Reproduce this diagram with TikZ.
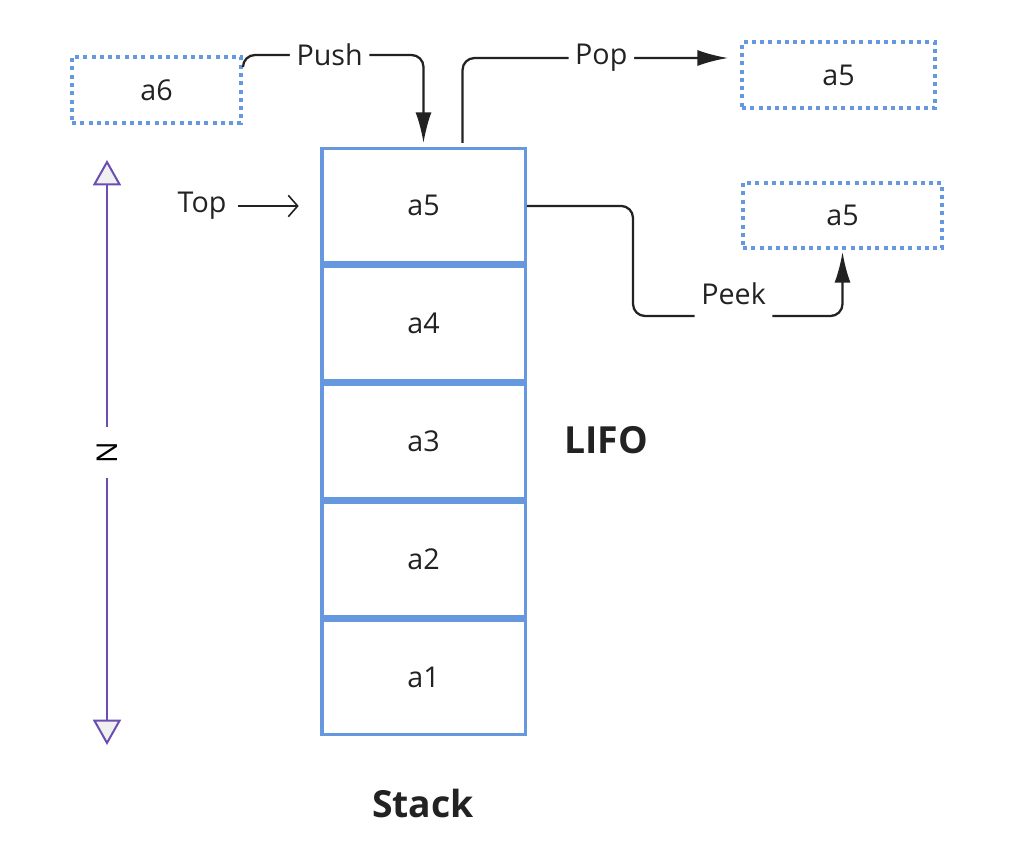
\documentclass[tikz,border=0pt]{standalone}
\usepackage{fontspec}
\setmainfont{Open Sans}
\usetikzlibrary{positioning,arrows.meta}
\definecolor{stackblue}{RGB}{102,152,224}
\definecolor{npurple}{RGB}{108,78,178}
\definecolor{inkgray}{RGB}{34,34,34}

\begin{document}
\begin{tikzpicture}
            [x=0.75pt, y=-0.75pt, font=\fontsize{21.5}{26}\selectfont, text=inkgray,
            cell/.style={draw=stackblue, line width=2.6pt, minimum width=152.6pt, minimum height=85.8pt, inner sep=0pt},
            dotbox/.style={draw=stackblue, line width=3pt, dash pattern=on 3pt off 3.2pt, inner sep=0pt},
            conn/.style={draw=inkgray, line width=1.7pt, rounded corners=9pt, -{Latex[length=23pt,width=12pt]}},
            lbl/.style={fill=white, inner xsep=5pt, inner ysep=2pt},
            bigtext/.style={font=\fontsize{28}{32}\selectfont\bfseries}]
            \useasboundingbox (0,0) rectangle (1012,856);
            % the stack itself
            \node [cell] (a5) at (423.5,205.9) {a5};
            \node [cell, below=0pt of a5] (a4) {a4};
            \node [cell, below=0pt of a4] (a3) {a3};
            \node [cell, below=0pt of a3] (a2) {a2};
            \node [cell, below=0pt of a2] (a1) {a1};
            \node [bigtext] (stacklbl) at (423,803) {Stack};
            \node [bigtext] (lifo) at (606,440) {LIFO};
            % outside elements
            \node [dotbox, minimum width=126.7pt, minimum height=49.5pt] (a6) at (156.5,90) {a6};
            \node [dotbox, minimum width=144.7pt, minimum height=49.5pt] (popped) at (838.5,75) {a5};
            \node [dotbox, minimum width=149.2pt, minimum height=48.7pt] (peeked) at (842.5,215.5) {a5};
            \node (top) at (202,206) {Top};
            % operations
            \draw [conn, shorten >=3pt] ([yshift=-9pt]a6.north east) |- node [lbl, pos=0.74] {Push} (a5.north |- 0,55) -- (a5.north);
            \draw [conn, shorten <=3pt, shorten >=9pt] ([xshift=29.25pt]a5.north) |- node [lbl, pos=0.75] {Pop} (popped.west |- 0,58);
            \coordinate (peekdrop) at (633,316);
            \draw [conn, shorten >=1.5pt] (a5.east) -| (peekdrop) -| node [lbl, pos=0.24, text height=16pt, text depth=34pt] {Peek} (peeked.south);
            \draw [draw=inkgray, line width=1.2pt, -{Straight Barb[length=7pt,width=16pt]}, shorten <=5pt, shorten >=16pt] (top.east) -- (top.east -| a5.west);
            % size of the stack
            \coordinate (ntop) at (107,160);
            \coordinate (nbot) at (107,745);
            \draw [draw=npurple, line width=1.5pt, {Triangle[length=19pt,width=21pt,fill=black!6]}-{Triangle[length=19pt,width=21pt,fill=black!6]}]
                (ntop) -- node [fill=white, rotate=90, inner xsep=11pt, inner ysep=2pt, text=black] {N} (nbot);
\end{tikzpicture}
\end{document}
